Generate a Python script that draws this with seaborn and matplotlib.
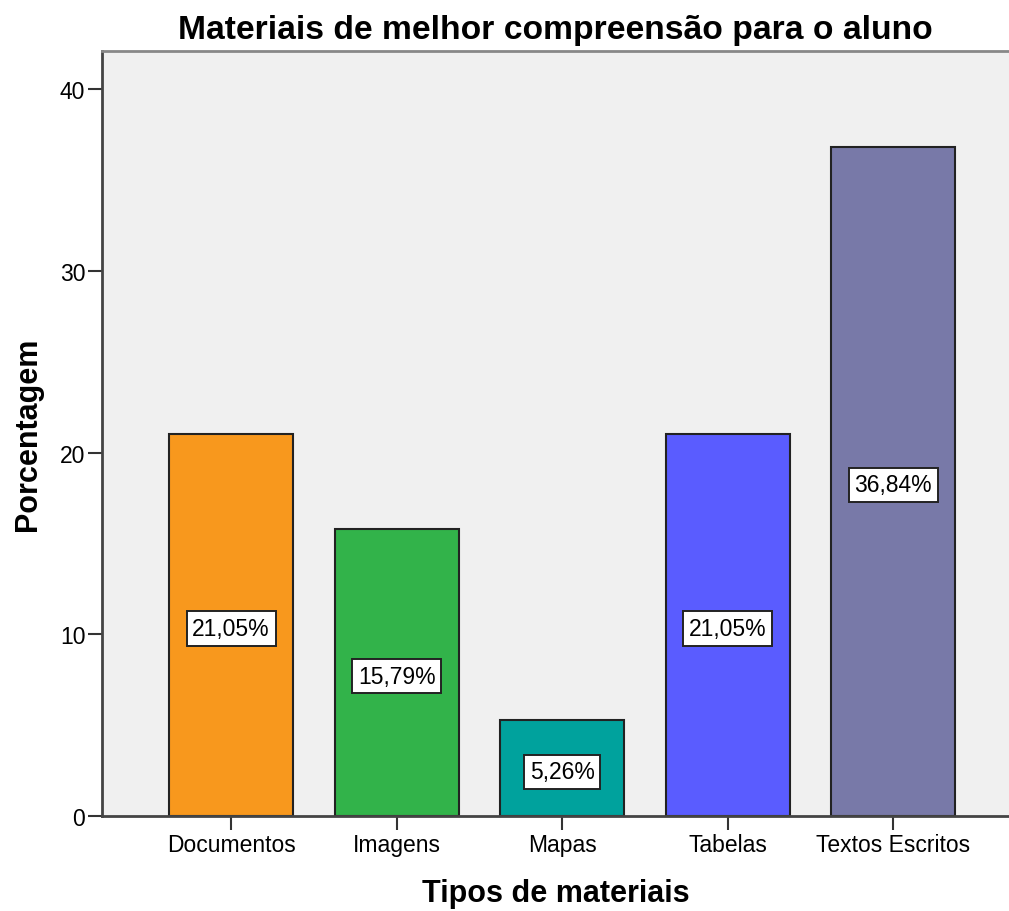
import matplotlib
matplotlib.use("Agg")
import matplotlib.pyplot as plt
import seaborn as sns
import pandas as pd

categories = ["Documentos", "Imagens", "Mapas", "Tabelas", "Textos Escritos"]
percentages = [21.05, 15.79, 5.26, 21.05, 36.84]
colors = ["#F8981D", "#32B34A", "#00A29D", "#5A5CFF", "#7879A8"]
y_ticks = [0, 10, 20, 30, 40]

title = "Materiais de melhor compreensão para o aluno"
x_label = "Tipos de materiais"
y_label = "Porcentagem"

sns.set_theme(style="white")
plt.rcParams["font.family"] = ["Liberation Sans", "DejaVu Sans"]
plt.rcParams["text.color"] = "black"
plt.rcParams["axes.labelcolor"] = "black"
plt.rcParams["xtick.color"] = "black"
plt.rcParams["ytick.color"] = "black"

df = pd.DataFrame({"categoria": categories, "pct": percentages})

fig = plt.figure(figsize=(10.09, 9.12), dpi=100)
ax = fig.add_axes([102 / 1009, 95 / 912, 1 - 102 / 1009, (817 - 52) / 912])
ax.set_facecolor("#F0F0F0")

sns.barplot(data=df, x="categoria", y="pct", hue="categoria",
            palette=colors, legend=False, width=0.75,
            edgecolor="#222222", linewidth=1.5, saturation=1, ax=ax)

ax.set_xlim(-0.78, 4.70)
ax.set_ylim(0, 42.1)
ax.set_yticks(y_ticks)
ax.set_yticklabels([str(t) for t in y_ticks])

# value labels centred in each bar
for i, v in enumerate(percentages):
    ax.text(i, v / 2 - 0.2, f"{v:.2f}%".replace(".", ","), ha="center", va="center",
            fontsize=16.5, color="black",
            bbox=dict(boxstyle="square,pad=0.25", facecolor="white",
                      edgecolor="#222222", linewidth=1.4))

ax.set_title(title, fontsize=24.2, fontweight="bold", pad=9, color="black")
ax.set_xlabel(x_label, fontsize=22, fontweight="bold", labelpad=16)
ax.set_ylabel(y_label, fontsize=22, fontweight="bold", labelpad=12)

ax.tick_params(axis="both", labelsize=16.5, direction="out", length=10,
               width=1.5, color="#333333", pad=2, left=True, bottom=True)

for side in ["left", "bottom"]:
    ax.spines[side].set_color("#444444")
    ax.spines[side].set_linewidth(2)
ax.spines["top"].set_color("#888888")
ax.spines["top"].set_linewidth(2)
ax.spines["right"].set_visible(False)

fig.savefig("out.png", dpi=100, facecolor="white")
